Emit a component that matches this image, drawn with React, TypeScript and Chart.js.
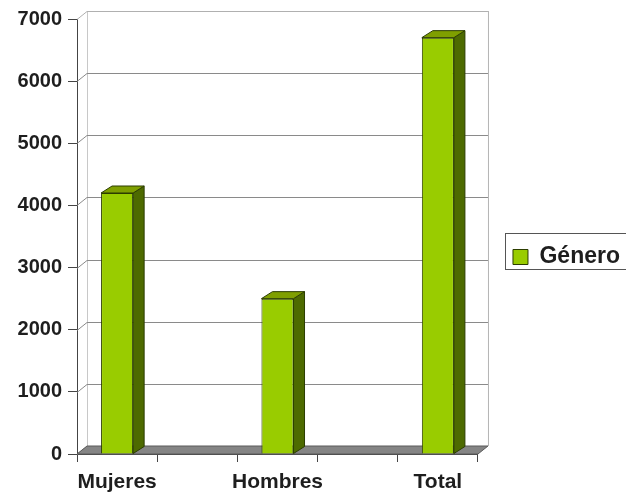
import { useEffect, useRef } from "react";
import { Chart, registerables } from "chart.js";

Chart.register(...registerables);

// ---- data ----
const categories: string[] = ["Mujeres", "", "Hombres", "", "Total"];
const values: (number | null)[] = [4200, null, 2500, null, 6700];
const seriesLabel = "Género";
const yMin = 0;
const yMax = 7000;
const yStep = 1000;

// ---- styling ----
const WALL_DX = 10;
const WALL_DY = -8;
const BAR_DX = 11;
const BAR_DY = -7;
const FONT = "'Liberation Sans', Arial, sans-serif";

const threeD = {
  id: "threeD",
  beforeDatasetsDraw(chart: any) {
    const { ctx, chartArea, scales } = chart;
    const { left, right, bottom } = chartArea;
    const y = scales.y;
    const topPx = y.getPixelForValue(yMax);
    ctx.save();
    ctx.lineWidth = 1;
    ctx.strokeStyle = "#c8c8c8";
    ctx.beginPath();
    ctx.moveTo(left + WALL_DX + 0.5, topPx + WALL_DY);
    ctx.lineTo(left + WALL_DX + 0.5, bottom + WALL_DY);
    ctx.stroke();
    ctx.strokeStyle = "#b4b4b4";
    ctx.beginPath();
    ctx.moveTo(right + WALL_DX + 0.5, topPx + WALL_DY);
    ctx.lineTo(right + WALL_DX + 0.5, bottom + WALL_DY);
    ctx.stroke();
    for (let v = yMin; v <= yMax; v += yStep) {
      const py = Math.round(y.getPixelForValue(v)) + 0.5;
      ctx.strokeStyle = v === yMax ? "#b0b0b0" : "#8a8a8a";
      ctx.beginPath();
      ctx.moveTo(left, py);
      ctx.lineTo(left + WALL_DX, py + WALL_DY);
      if (v !== yMin) ctx.lineTo(right + WALL_DX, py + WALL_DY);
      ctx.stroke();
    }
    ctx.fillStyle = "#858585";
    ctx.strokeStyle = "#5a5a5a";
    ctx.beginPath();
    ctx.moveTo(left, bottom);
    ctx.lineTo(right, bottom);
    ctx.lineTo(right + WALL_DX, bottom + WALL_DY);
    ctx.lineTo(left + WALL_DX, bottom + WALL_DY);
    ctx.closePath();
    ctx.fill();
    ctx.stroke();
    ctx.restore();
  },
  afterDatasetsDraw(chart: any) {
    const { ctx } = chart;
    const meta = chart.getDatasetMeta(0);
    ctx.save();
    ctx.lineWidth = 1;
    ctx.strokeStyle = "#2c3d00";
    meta.data.forEach((el: any, i: number) => {
      if (values[i] === null || values[i] === undefined) return;
      const p = el.getProps(["x", "y", "base", "width"], true);
      const l = p.x - p.width / 2;
      const r = p.x + p.width / 2;
      const t = p.y;
      const b = p.base;
      ctx.fillStyle = "#4d6a00";
      ctx.beginPath();
      ctx.moveTo(r, t);
      ctx.lineTo(r + BAR_DX, t + BAR_DY);
      ctx.lineTo(r + BAR_DX, b + BAR_DY);
      ctx.lineTo(r, b);
      ctx.closePath();
      ctx.fill();
      ctx.stroke();
      ctx.fillStyle = "#7f9f00";
      ctx.beginPath();
      ctx.moveTo(l, t);
      ctx.lineTo(l + BAR_DX, t + BAR_DY);
      ctx.lineTo(r + BAR_DX, t + BAR_DY);
      ctx.lineTo(r, t);
      ctx.closePath();
      ctx.fill();
      ctx.stroke();
    });
    ctx.restore();
  },
  afterDraw(chart: any) {
    const lg = chart.legend;
    if (!lg || !lg.legendHitBoxes || !lg.legendHitBoxes.length) return;
    const hb = lg.legendHitBoxes[0];
    const { ctx } = chart;
    ctx.save();
    ctx.strokeStyle = "#555";
    ctx.lineWidth = 1;
    ctx.strokeRect(Math.round(hb.left - 8) + 0.5, Math.round(hb.top - 13) + 0.5, 200, 36);
    ctx.restore();
  },
};

export default function App() {
  const ref = useRef<HTMLCanvasElement | null>(null);

  useEffect(() => {
    document.body.style.margin = "0";
    document.body.style.overflow = "hidden";
    const canvas = ref.current;
    if (!canvas) return;
    const chart = new Chart(canvas, {
      type: "bar",
      data: {
        labels: categories,
        datasets: [
          {
            label: seriesLabel,
            data: values,
            backgroundColor: "#99cc00",
            borderColor: "#2c3d00",
            borderWidth: 1,
            barPercentage: 0.4,
            categoryPercentage: 1,
          },
        ],
      },
      options: {
        animation: false,
        responsive: false,
        devicePixelRatio: 1,
        layout: { padding: { left: 0, top: 19, right: -4, bottom: 2 } },
        plugins: {
          tooltip: { enabled: false },
          legend: {
            display: true,
            position: "right",
            labels: {
              boxWidth: 15,
              boxHeight: 15,
              padding: 35,
              color: "#1e1e1e",
              font: { family: FONT, size: 23, weight: "bold" },
            },
          },
        },
        scales: {
          x: {
            type: "category",
            offset: true,
            grid: {
              display: true,
              offset: true,
              drawOnChartArea: false,
              drawTicks: true,
              tickLength: 8,
              color: "#444",
            },
            border: { display: true, color: "#444" },
            ticks: {
              color: "#1e1e1e",
              padding: 8,
              maxRotation: 0,
              autoSkip: false,
              font: { family: FONT, size: 21, weight: "bold" },
            },
            afterFit: (s: any) => {
              s.height = 41;
            },
          },
          y: {
            min: yMin,
            max: yMax,
            ticks: {
              stepSize: yStep,
              color: "#1e1e1e",
              padding: 6,
              font: { family: FONT, size: 20, weight: "bold" },
              callback: (v: any) => String(v),
            },
            grid: {
              display: true,
              drawOnChartArea: false,
              drawTicks: true,
              tickLength: 9,
              color: "#444",
            },
            border: { display: true, color: "#444" },
            afterFit: (s: any) => {
              s.width = 77;
            },
          },
        },
      },
      plugins: [threeD],
    });
    return () => chart.destroy();
  }, []);

  return (
    <div style={{ width: 626, height: 497, overflow: "hidden", background: "#fff" }}>
      <canvas ref={ref} width={626} height={497} style={{ display: "block" }} />
    </div>
  );
}
